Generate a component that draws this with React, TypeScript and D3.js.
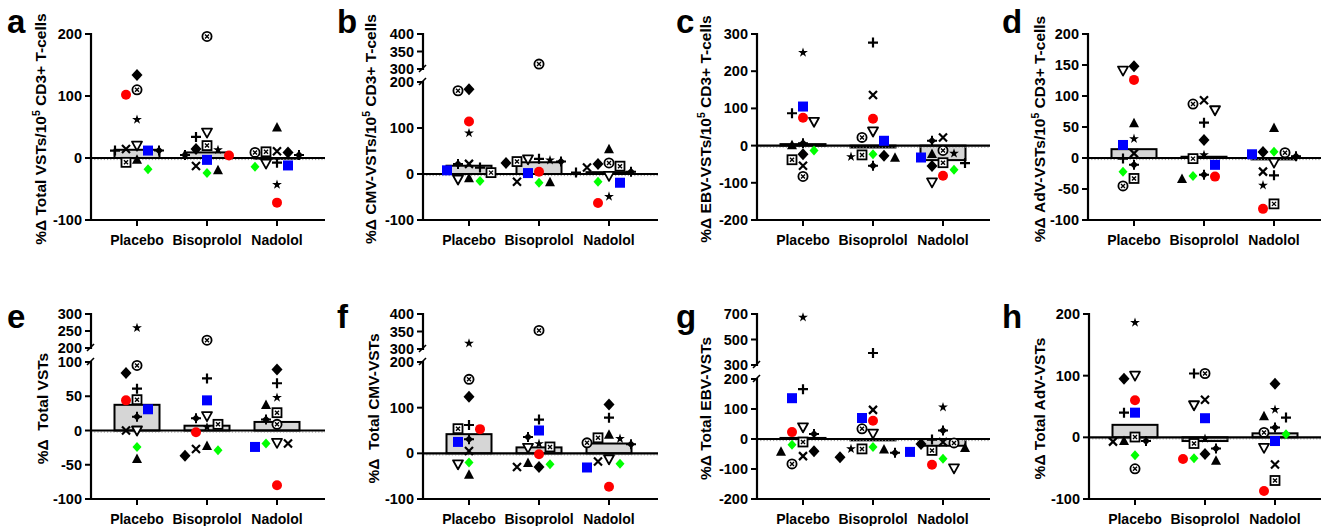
import React from "react";
import * as d3 from "d3";

const categories = ["Placebo", "Bisoprolol", "Nadolol"];
// marker order for every group array below
const subjects = ["redCircle", "blueSquare", "greenDiamond", "blackDiamond", "circleX", "squareX", "triDown", "triUp", "plus", "cross", "star", "crossDiamond"];

// Panel a: %Δ Total VSTs/10^5 CD3+ T-cells
const aPlacebo = [102, 12, -18, 134, 110, -7, 20, -2, 12, 14.5, 62, 12];
const aBisoprolol = [4, -3, -24, 14.5, 196, 20, 41, -19, 34, -13, 13, 5];
const aNadolol = [-72, -12, -14, 9, 9, 10, -9, 50, -7.5, 11, -43, 5];
// Panel b: CMV-VSTs/10^5
const bPlacebo = [114, 8, -15, 184, 181, 3, -12, -8, 14, 22, 89, 22];
const bBisoprolol = [5, 2, -19, 24, 314, 27, 32, -17, 33, -17, 30, 27];
const bNadolol = [-63, -19, -17, 22, 24, 17, -4, 55, 3, 14, -49, 5];
// Panel c: EBV-VSTs/10^5
const cPlacebo = [75, 105, -13, -23, -83, -38, 64, 2, 87, -54, 250, 6];
const cBisoprolol = [72, 13, -23, -27, 22, -25, 38, -31, 277, 136, -30, -54];
const cNadolol = [-81, -32, -65, -55, -13, -46, -99, -21, -47, 22, -21, 13];
// Panel d: AdV-VSTs/10^5
const dPlacebo = [126, 21, -22, 148, -45, -33, 141, 57, -1, 7.5, 31, -11];
const dBisoprolol = [-30, -11, -29, 29, 87, -1, 77, -33, 57, 93, 5, -27];
const dNadolol = [-82, 6, 10, 9.6, 8.5, -74, -7.5, 49, -28, -22, -44, 3];
// Panel e: Total VSTs
const ePlacebo = [44, 31, -24, 84, 95, 45, 0, -41, 61, 0, 259, 20];
const eBisoprolol = [-2.5, 44, -29, -37, 223, 9, 21, -22, 76, -27, 5, 18];
const eNadolol = [-80, -24, -19, 89, 9, 26, -18, 38, 69, -19, 48, 16];
// Panel f: Total CMV-VSTs
const fPlacebo = [53, 25, -20, 124, 162, 54, -24, -46, 62, 5, 316, 31];
const fBisoprolol = [-2, 50, -24, -30, 353, 14, 12, -20, 74, -30, 21, 36];
const fNadolol = [-73, -31, -23, 107, 23, 34, -13, 42, 78, -18, 32, 20];
// Panel g: Total EBV-VSTs
const gPlacebo = [23, 136, -19, -41, -83, -10, 39, -41, 166, -57, 674, 17];
const gBisoprolol = [61, 70, -27, -61, 34, -33, 18, -33, 394, 97, -33, -46];
const gNadolol = [-86, -43, -66, -17, -13, -38, -98, -28, -2, -10, 106, 28];
// Panel h: Total AdV-VSTs
const hPlacebo = [60, 40, -29, 95, -51, 0.5, 100, -5, 40, -7, 186, -6];
const hBisoprolol = [-35, 31, -34, -27, 103.5, -10, 52, -37, 103.5, 61, -2, -18];
const hNadolol = [-87, -6, 5, 87, 8, -70, -17, 35, 32, -44, 45, 16];

const ticksA = [-100, 0, 100, 200];
const ticksC = [-200, -100, 0, 100, 200, 300];
const ticksD = [-100, -50, 0, 50, 100, 150, 200];
const ticksE = [-100, -50, 0, 50, 100];
const ticksUpper300 = [300, 350, 400];
const ticksUpper200 = [200, 250, 300];
const ticksG = [-200, -100, 0, 100, 200];
const ticksGUpper = [300, 500, 700];

type Panel = {
  letter: string;
  pre: string;
  main: string;
  sup?: string;
  post?: string;
  data: number[][];
  lower: [number, number];
  lowerTicks: number[];
  upper?: [number, number];
  upperTicks?: number[];
  ax: number; right: number; top: number; bottom: number;
  lowTop?: number; upBottom?: number;
  lx: number; ly: number; labX: number;
};

const TOP = 34, BOT = 220, TOP2 = 314, BOT2 = 499;

const panels: Panel[] = [
  { letter: "a", pre: "%Δ ", main: "Total VSTs/10", sup: "5", post: " CD3+ T-cells", data: [aPlacebo, aBisoprolol, aNadolol], lower: [-100, 200], lowerTicks: ticksA, ax: 91, right: 325, top: TOP, bottom: BOT, lx: 7, ly: 33, labX: 46 },
  { letter: "b", pre: "%Δ ", main: "CMV-VSTs/10", sup: "5", post: " CD3+ T-cells", data: [bPlacebo, bBisoprolol, bNadolol], lower: [-100, 200], lowerTicks: ticksA, upper: [300, 400], upperTicks: ticksUpper300, ax: 423, right: 658, top: TOP, bottom: BOT, lowTop: 82, upBottom: 69, lx: 337, ly: 33, labX: 376 },
  { letter: "c", pre: "%Δ ", main: "EBV-VSTs/10", sup: "5", post: " CD3+ T-cells", data: [cPlacebo, cBisoprolol, cNadolol], lower: [-200, 300], lowerTicks: ticksC, ax: 757, right: 990, top: TOP, bottom: BOT, lx: 676, ly: 33, labX: 711 },
  { letter: "d", pre: "%Δ ", main: "AdV-VSTs/10", sup: "5", post: " CD3+ T-cells", data: [dPlacebo, dBisoprolol, dNadolol], lower: [-100, 200], lowerTicks: ticksD, ax: 1088, right: 1321, top: TOP, bottom: BOT, lx: 1002, ly: 33, labX: 1045 },
  { letter: "e", pre: "%Δ  ", main: "Total VSTs", data: [ePlacebo, eBisoprolol, eNadolol], lower: [-100, 100], lowerTicks: ticksE, upper: [200, 300], upperTicks: ticksUpper200, ax: 91, right: 325, top: TOP2, bottom: BOT2, lowTop: 362, upBottom: 348, lx: 7, ly: 328, labX: 48 },
  { letter: "f", pre: "%Δ  ", main: "Total CMV-VSTs", data: [fPlacebo, fBisoprolol, fNadolol], lower: [-100, 200], lowerTicks: ticksA, upper: [300, 400], upperTicks: ticksUpper300, ax: 423, right: 658, top: TOP2, bottom: BOT2, lowTop: 362, upBottom: 349, lx: 337, ly: 328, labX: 379 },
  { letter: "g", pre: "%Δ ", main: "Total EBV-VSTs", data: [gPlacebo, gBisoprolol, gNadolol], lower: [-200, 200], lowerTicks: ticksG, upper: [300, 700], upperTicks: ticksGUpper, ax: 757, right: 990, top: TOP2, bottom: BOT2, lowTop: 379, upBottom: 365, lx: 676, ly: 328, labX: 711 },
  { letter: "h", pre: "%Δ ", main: "Total AdV-VSTs", data: [hPlacebo, hBisoprolol, hNadolol], lower: [-100, 200], lowerTicks: ticksA, ax: 1089, right: 1321, top: TOP2, bottom: BOT2, lx: 1002, ly: 328, labX: 1045 },
];

const FONT = "'Liberation Sans', Arial, Helvetica, sans-serif";

function dodge(ys: number[], step = 11, minDist = 10.5): number[] {
  const idx = ys.map((_, i) => i).sort((a, b) => ys[a] - ys[b]);
  const placed: { x: number; y: number }[] = [];
  const offs = new Array(ys.length).fill(0);
  for (const i of idx) {
    const py = ys[i];
    for (let k = 0; k < 30; k++) {
      const m = Math.ceil(k / 2);
      const cand = k === 0 ? 0 : (k % 2 === 1 ? -m * step : m * step);
      if (placed.every((p) => Math.hypot(p.x - cand, p.y - py) >= minDist)) {
        offs[i] = cand;
        placed.push({ x: cand, y: py });
        break;
      }
    }
  }
  return offs;
}

const starPath = d3.symbol().type(d3.symbolStar).size(30)() as string;

function Marker({ kind, x, y }: { kind: string; x: number; y: number }) {
  const sw = 1.8;
  switch (kind) {
    case "redCircle":
      return <circle cx={x} cy={y} r={5} fill="#ff0000" />;
    case "blueSquare":
      return <rect x={x - 5} y={y - 5} width={10} height={10} fill="#0000ff" />;
    case "greenDiamond":
      return <path d={`M${x},${y - 5}L${x + 4.5},${y}L${x},${y + 5}L${x - 4.5},${y}Z`} fill="#00ff00" />;
    case "blackDiamond":
      return <path d={`M${x},${y - 6}L${x + 5.5},${y}L${x},${y + 6}L${x - 5.5},${y}Z`} fill="#000" />;
    case "circleX":
      return (
        <g stroke="#000" fill="#fff">
          <circle cx={x} cy={y} r={4.6} strokeWidth={sw} />
          <path d={`M${x - 2},${y - 2}L${x + 2},${y + 2}M${x - 2},${y + 2}L${x + 2},${y - 2}`} strokeWidth={1.4} />
        </g>
      );
    case "squareX":
      return (
        <g stroke="#000" fill="#fff">
          <rect x={x - 4.5} y={y - 4.5} width={9} height={9} strokeWidth={sw} />
          <path d={`M${x - 2},${y - 2}L${x + 2},${y + 2}M${x - 2},${y + 2}L${x + 2},${y - 2}`} strokeWidth={1.4} />
        </g>
      );
    case "triDown":
      return <path d={`M${x - 5},${y - 4}L${x + 5},${y - 4}L${x},${y + 5}Z`} fill="#fff" stroke="#000" strokeWidth={sw} strokeLinejoin="round" />;
    case "triUp":
      return <path d={`M${x - 5},${y + 4.5}L${x + 5},${y + 4.5}L${x},${y - 5}Z`} fill="#000" />;
    case "plus":
      return <path d={`M${x - 5},${y}L${x + 5},${y}M${x},${y - 5}L${x},${y + 5}`} stroke="#000" strokeWidth={2.2} />;
    case "cross":
      return <path d={`M${x - 4},${y - 4}L${x + 4},${y + 4}M${x - 4},${y + 4}L${x + 4},${y - 4}`} stroke="#000" strokeWidth={2.2} />;
    case "star":
      return <path d={starPath} transform={`translate(${x},${y})`} fill="#000" />;
    case "crossDiamond":
      return (
        <g>
          <path d={`M${x},${y - 4}L${x + 4},${y}L${x},${y + 4}L${x - 4},${y}Z`} fill="#000" />
          <path d={`M${x - 5},${y}L${x + 5},${y}M${x},${y - 5}L${x},${y + 5}`} stroke="#000" strokeWidth={2} />
        </g>
      );
    default:
      return null;
  }
}

function PanelView({ p }: { p: Panel }) {
  const x = d3.scalePoint<string>().domain(categories).range([p.ax + 46, p.ax + 186]);
  const yLow = d3.scaleLinear().domain(p.lower).range([p.bottom, p.upper ? (p.lowTop as number) : p.top]);
  const yUp = p.upper ? d3.scaleLinear().domain(p.upper).range([p.upBottom as number, p.top]) : null;
  const y = (v: number) => (yUp && v > p.lower[1] ? yUp(v) : yLow(v));
  const y0 = yLow(0);
  const barW = 45;
  const cy = (p.top + p.bottom) / 2;
  const axisSegs: [number, number][] = p.upper
    ? [[p.top, p.upBottom as number], [p.lowTop as number, p.bottom]]
    : [[p.top, p.bottom]];
  return (
    <g>
      <text x={p.lx} y={p.ly} fontSize={33} fontWeight="bold" fontFamily={FONT}>{p.letter}</text>
      <text transform={`translate(${p.labX},${cy + 2}) rotate(-90)`} textAnchor="middle" fontSize={15.5} fontWeight="bold" fontFamily={FONT} style={{ whiteSpace: "pre" }}>
        {p.pre + p.main}
        {p.sup ? <tspan dy={-6} fontSize={10.5}>{p.sup}</tspan> : null}
        {p.post ? <tspan dy={6}>{p.post}</tspan> : null}
      </text>
      {/* bars (median) */}
      {p.data.map((vals, gi) => {
        const med = d3.median(vals) as number;
        const cx = x(categories[gi]) as number;
        const yt = yLow(med);
        return <rect key={"b" + gi} x={cx - barW / 2} y={Math.min(yt, y0)} width={barW} height={Math.abs(y0 - yt)} fill="#d6d6d6" stroke="#000" strokeWidth={2} />;
      })}
      {/* zero lines */}
      <line x1={p.ax} x2={p.right} y1={y0 + 1.6} y2={y0 + 1.6} stroke="#999" strokeWidth={1} strokeDasharray="1.2,2" />
      <line x1={p.ax} x2={p.right} y1={y0} y2={y0} stroke="#000" strokeWidth={2.2} />
      {/* y axis */}
      {axisSegs.map(([a, b], i) => (
        <line key={"ax" + i} x1={p.ax} x2={p.ax} y1={a - 1} y2={b + 1} stroke="#000" strokeWidth={2.2} />
      ))}
      {p.upper ? (
        <g stroke="#000" strokeWidth={1.6}>
          <line x1={p.ax - 4} x2={p.ax + 3} y1={(p.upBottom as number) + 3} y2={(p.upBottom as number) - 4} />
          <line x1={p.ax - 4} x2={p.ax + 3} y1={(p.lowTop as number) + 3} y2={(p.lowTop as number) - 4} />
        </g>
      ) : null}
      {p.lowerTicks.map((t) => (
        <g key={"lt" + t}>
          <line x1={p.ax - 6} x2={p.ax} y1={yLow(t)} y2={yLow(t)} stroke="#000" strokeWidth={2} />
          <text x={p.ax - 9} y={yLow(t) + 5} textAnchor="end" fontSize={14.5} fontWeight="bold" fontFamily={FONT}>{t}</text>
        </g>
      ))}
      {yUp && p.upperTicks ? p.upperTicks.map((t) => (
        <g key={"ut" + t}>
          <line x1={p.ax - 6} x2={p.ax} y1={yUp(t)} y2={yUp(t)} stroke="#000" strokeWidth={2} />
          <text x={p.ax - 9} y={yUp(t) + 5} textAnchor="end" fontSize={14.5} fontWeight="bold" fontFamily={FONT}>{t}</text>
        </g>
      )) : null}
      {/* x axis */}
      <line x1={p.ax - 1} x2={p.right} y1={p.bottom} y2={p.bottom} stroke="#000" strokeWidth={2.2} />
      {categories.map((c) => (
        <g key={"xt" + c}>
          <line x1={x(c)} x2={x(c)} y1={p.bottom} y2={p.bottom + 6} stroke="#000" strokeWidth={2} />
          <text x={x(c)} y={p.bottom + 25} textAnchor="middle" fontSize={14} fontWeight="bold" fontFamily={FONT}>{c}</text>
        </g>
      ))}
      {/* points */}
      {p.data.map((vals, gi) => {
        const ys = vals.map(y);
        const offs = dodge(ys);
        const cx = x(categories[gi]) as number;
        return (
          <g key={"pts" + gi}>
            {vals.map((v, i) => (
              <Marker key={i} kind={subjects[i]} x={cx + offs[i]} y={ys[i]} />
            ))}
          </g>
        );
      })}
    </g>
  );
}

export default function App() {
  return (
    <svg width={1324} height={526} style={{ position: "absolute", left: 0, top: 0, background: "#fff" }}>
      <rect width={1324} height={526} fill="#fff" />
      {panels.map((p) => <PanelView key={p.letter} p={p} />)}
    </svg>
  );
}
